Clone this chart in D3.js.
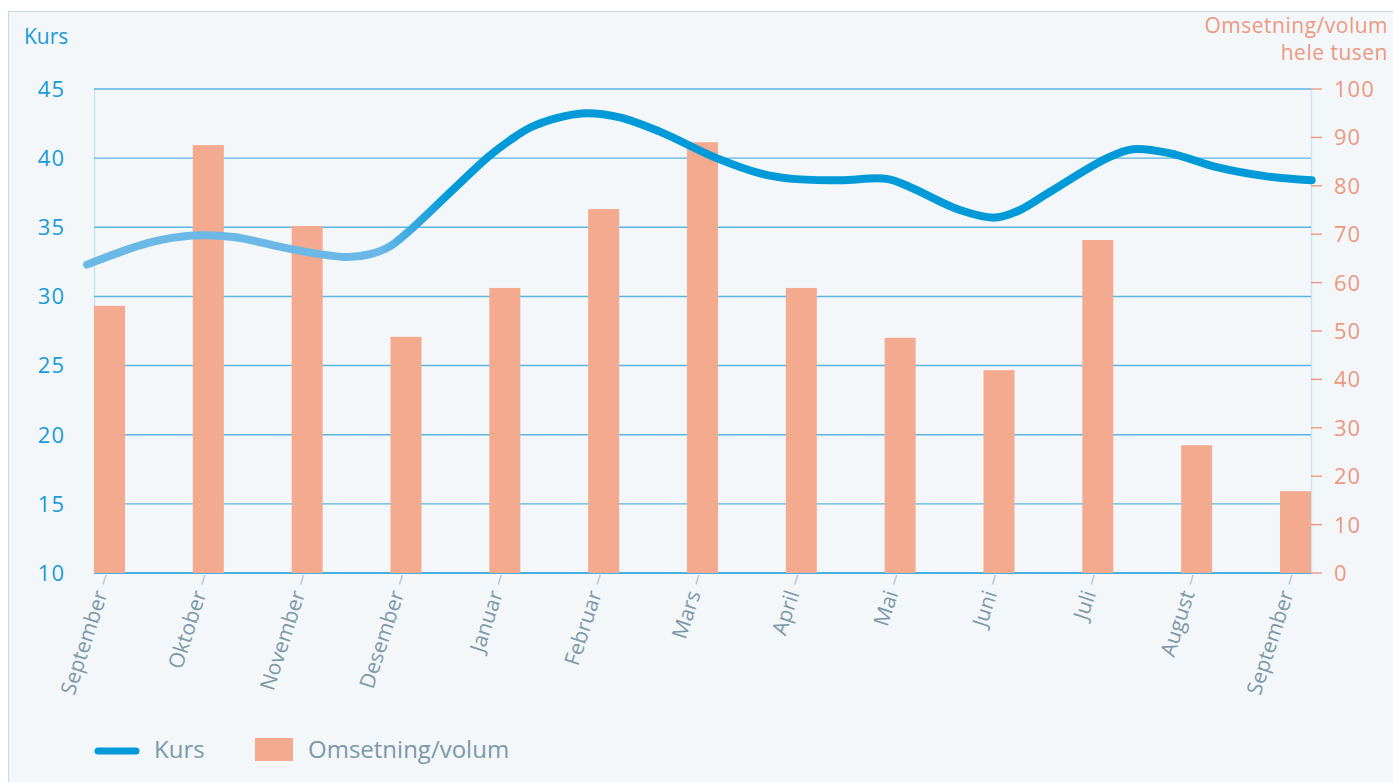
<!DOCTYPE html>
<html>
<head>
<meta charset="utf-8">
<script src="https://cdn.jsdelivr.net/npm/d3@7/dist/d3.min.js"></script>
<style>
  body { margin: 0; background: #fff; overflow: hidden; }
  svg text { font-family: "Open Sans", sans-serif; }
</style>
</head>
<body>
<div id="chart"></div>
<script>
// size of page
const width = 1393;
const height = 782;

// months on the x axis
const months = ["September", "Oktober", "November", "Desember", "Januar", "Februar",
  "Mars", "April", "Mai", "Juni", "Juli", "August", "September"];

// omsetning/volum in hele tusen, one bar per month
const volume = [55.2, 88.4, 71.7, 48.8, 58.9, 75.2, 89.0, 58.9, 48.6, 41.9, 68.8, 26.4, 16.9];

// kurs: position in months and value
const kursPos = [-0.07, 0.57, 1.0, 1.41, 2.01, 2.56, 2.79, 2.99, 3.20, 3.63, 3.99, 4.21, 4.41, 4.68,
  4.97, 5.32, 5.73, 6.30, 6.74, 7.07, 7.55, 8.02, 8.26, 8.76, 9.12, 9.37, 9.67, 10.25, 10.51,
  10.89, 11.36, 11.85, 12.32];
const kursVal = [32.3, 33.9, 34.4, 34.3, 33.4, 32.85, 33.05, 33.6, 34.8, 37.7, 40.1, 41.3, 42.2, 42.9,
  43.25, 42.95, 41.9, 40.0, 38.9, 38.5, 38.4, 38.5, 37.9, 36.25, 35.7, 36.25, 37.55, 40.0, 40.65,
  40.35, 39.35, 38.7, 38.4];

// tick labels
const kursTicks = [10, 15, 20, 25, 30, 35, 40, 45];
const volTicks = [0, 10, 20, 30, 40, 50, 60, 70, 80, 90, 100];

const blue = "#009ad8";
const salmon = "#f4aa8f";
const salmonText = "#ec9880";
const grey = "#7d98a8";

// plot area
const pLeft = 94, pRight = 1311, pTop = 89, pBottom = 573;
const barW = 31;

const svg = d3.select("#chart").append("svg")
    .attr("width", width)
    .attr("height", height);

// panel
svg.append("rect")
    .attr("x", 8.5).attr("y", 11.5)
    .attr("width", width).attr("height", height)
    .attr("fill", "#f3f7f9")
    .attr("stroke", "#c6d8e1");

// scales
const x = d3.scaleLinear().domain([0, months.length - 1]).range([pLeft, pRight - barW]);
const yK = d3.scaleLinear().domain([10, 45]).range([pBottom, pTop]);
const yV = d3.scaleLinear().domain([0, 100]).range([pBottom, pTop]);

// vertical axis lines
svg.append("line")
    .attr("x1", pLeft + 0.5).attr("x2", pLeft + 0.5)
    .attr("y1", pTop).attr("y2", pBottom)
    .attr("stroke", "#cbe4f0").attr("stroke-width", 1.5);
svg.append("line")
    .attr("x1", pRight + 0.5).attr("x2", pRight + 0.5)
    .attr("y1", pTop).attr("y2", pBottom)
    .attr("stroke", "#cbe4f0").attr("stroke-width", 1.5);

// grid lines
svg.append("g")
  .selectAll("line")
  .data(kursTicks)
  .enter().append("line")
    .attr("x1", pLeft).attr("x2", pRight)
    .attr("y1", d => yK(d)).attr("y2", d => yK(d))
    .attr("stroke", d => d === 10 ? "#0b97d6" : "#5ab5e0")
    .attr("stroke-width", 1.4);

// left axis labels
svg.append("g")
  .selectAll("text")
  .data(kursTicks)
  .enter().append("text")
    .attr("x", 65)
    .attr("y", d => yK(d))
    .attr("dy", "0.36em")
    .attr("text-anchor", "end")
    .attr("fill", "#1a9bd7")
    .attr("font-size", 22)
    .attr("letter-spacing", 1)
    .text(d => d);

// right axis ticks and labels
const rAxis = svg.append("g");
rAxis.selectAll("line")
  .data(volTicks)
  .enter().append("line")
    .attr("x1", pRight).attr("x2", pRight + 11)
    .attr("y1", d => yV(d)).attr("y2", d => yV(d))
    .attr("stroke", salmonText).attr("stroke-width", 1.4);
rAxis.selectAll("text")
  .data(volTicks)
  .enter().append("text")
    .attr("x", 1334)
    .attr("y", d => yV(d))
    .attr("dy", "0.36em")
    .attr("fill", salmonText)
    .attr("font-size", 22)
    .attr("letter-spacing", 1)
    .text(d => d);

// axis titles
svg.append("text")
    .attr("x", 24).attr("y", 44)
    .attr("fill", "#1a9bd7").attr("font-size", 21)
    .text("Kurs");
svg.append("text")
    .attr("x", 1388).attr("y", 33)
    .attr("text-anchor", "end")
    .attr("fill", salmonText).attr("font-size", 21)
    .attr("letter-spacing", 0.5)
    .text("Omsetning/volum");
svg.append("text")
    .attr("x", 1388).attr("y", 60)
    .attr("text-anchor", "end")
    .attr("fill", salmonText).attr("font-size", 21)
    .attr("letter-spacing", 0.5)
    .text("hele tusen");

// bars
svg.append("g")
  .selectAll("rect")
  .data(volume)
  .enter().append("rect")
    .attr("x", (d, i) => x(i))
    .attr("y", d => yV(d))
    .attr("width", barW)
    .attr("height", d => yV(0) - yV(d))
    .attr("fill", salmon);

// month ticks and labels, slanted
const angle = -72;
const xLab = svg.append("g")
  .selectAll("g")
  .data(months)
  .enter().append("g")
    .attr("transform", (d, i) => `translate(${x(i) + 12},${pBottom + 2}) rotate(${angle})`);
xLab.append("line")
    .attr("x1", 0).attr("x2", -10)
    .attr("stroke", "#b6cbd6").attr("stroke-width", 1.6);
xLab.append("text")
    .attr("x", -17)
    .attr("dy", "0.35em")
    .attr("text-anchor", "end")
    .attr("fill", grey)
    .attr("font-size", 21)
    .text(d => d);

// kurs line with a lighter start
const grad = svg.append("defs").append("linearGradient")
    .attr("id", "kursGrad")
    .attr("gradientUnits", "userSpaceOnUse")
    .attr("x1", 380).attr("x2", 450)
    .attr("y1", 0).attr("y2", 0);
grad.append("stop").attr("offset", 0).attr("stop-color", "#6bb8e6");
grad.append("stop").attr("offset", 1).attr("stop-color", blue);

const kurs = kursPos.map((p, i) => [p, kursVal[i]]);
const line = d3.line()
    .x(d => x(d[0]))
    .y(d => yK(d[1]))
    .curve(d3.curveCatmullRom.alpha(0.5));

svg.append("path")
    .datum(kurs)
    .attr("d", line)
    .attr("fill", "none")
    .attr("stroke", "url(#kursGrad)")
    .attr("stroke-width", 8)
    .attr("stroke-linecap", "round")
    .attr("stroke-linejoin", "round");

// legend
const legend = svg.append("g");
legend.append("line")
    .attr("x1", 98).attr("x2", 136)
    .attr("y1", 751).attr("y2", 751)
    .attr("stroke", blue).attr("stroke-width", 7)
    .attr("stroke-linecap", "round");
legend.append("text")
    .attr("x", 154).attr("y", 750)
    .attr("dy", "0.35em")
    .attr("fill", grey).attr("font-size", 24)
    .text("Kurs");
legend.append("rect")
    .attr("x", 255).attr("y", 738)
    .attr("width", 38).attr("height", 23)
    .attr("fill", salmon);
legend.append("text")
    .attr("x", 308).attr("y", 750)
    .attr("dy", "0.35em")
    .attr("fill", grey).attr("font-size", 24)
    .text("Omsetning/volum");
</script>
</body>
</html>
